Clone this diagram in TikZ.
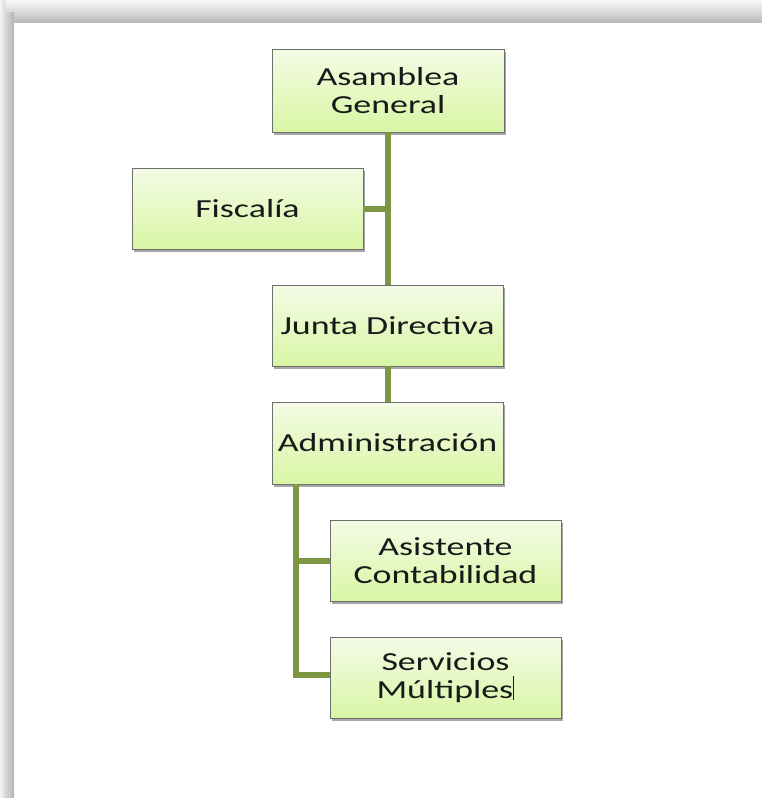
\documentclass[tikz,border=0pt]{standalone}
\usepackage{fontspec}
\setmainfont{Carlito}[FakeStretch=1.38]
\usetikzlibrary{shadows}
\definecolor{linegreen}{RGB}{124,150,66}
\definecolor{boxtop}{RGB}{244,251,230}
\definecolor{boxbot}{RGB}{216,246,164}
\definecolor{boxline}{RGB}{110,110,110}
\definecolor{txt}{RGB}{25,25,25}
\tikzset{
  orgbox/.style={draw=boxline, line width=0.8pt, top color=boxtop, bottom color=boxbot,
    minimum width=231pt, minimum height=81pt, align=center, text=txt,
    inner sep=2pt,
    font=\fontsize{26}{28}\selectfont,
    drop shadow={shadow xshift=1.5pt, shadow yshift=-2.5pt, opacity=0.35, fill=black}},
  conn/.style={draw=linegreen, line width=6pt}
}
\begin{document}
\begin{tikzpicture}[x=1pt,y=-1pt]
\useasboundingbox (0,0) rectangle (762,798);
\fill[white] (0,0) rectangle (762,798);
% frame shadow
\shade[top color=gray!6, bottom color=gray!30] (0,0) rectangle (762,12);
\shade[top color=gray!30, bottom color=gray!55] (0,12) rectangle (762,22);
\shade[left color=gray!8, right color=gray!30] (0,0) rectangle (5,798);
\shade[left color=gray!30, right color=gray!58] (5,12) rectangle (14,798);

\coordinate (admT) at (296,484);

\node[orgbox, minimum width=232pt, minimum height=83pt] (asa) at (388,90.5) {Asamblea\\General};
\node[orgbox] (fis) at (247.5,208.5) {Fiscalía};
\node[orgbox] (jun) at (387.5,325.5) {Junta Directiva};
\node[orgbox, minimum height=82pt] (adm) at (387.5,443) {Administración};
\node[orgbox] (asi) at (445.5,560.5) {Asistente\\Contabilidad};
\node[orgbox] (ser) at (445.5,677.5) {Servicios\\Múltiples\rule[-2pt]{1.2pt}{24pt}};

\draw[conn] (asa.south) -- (asa.south |- jun.north);
\draw[conn] (fis.east) -- (fis.east -| asa.south);
\draw[conn] (jun.south) -- (adm.north);
\draw[conn] (admT) |- (asi.west);
\draw[conn] (admT) |- ([yshift=2.5pt]ser.west);
\end{tikzpicture}
\end{document}
